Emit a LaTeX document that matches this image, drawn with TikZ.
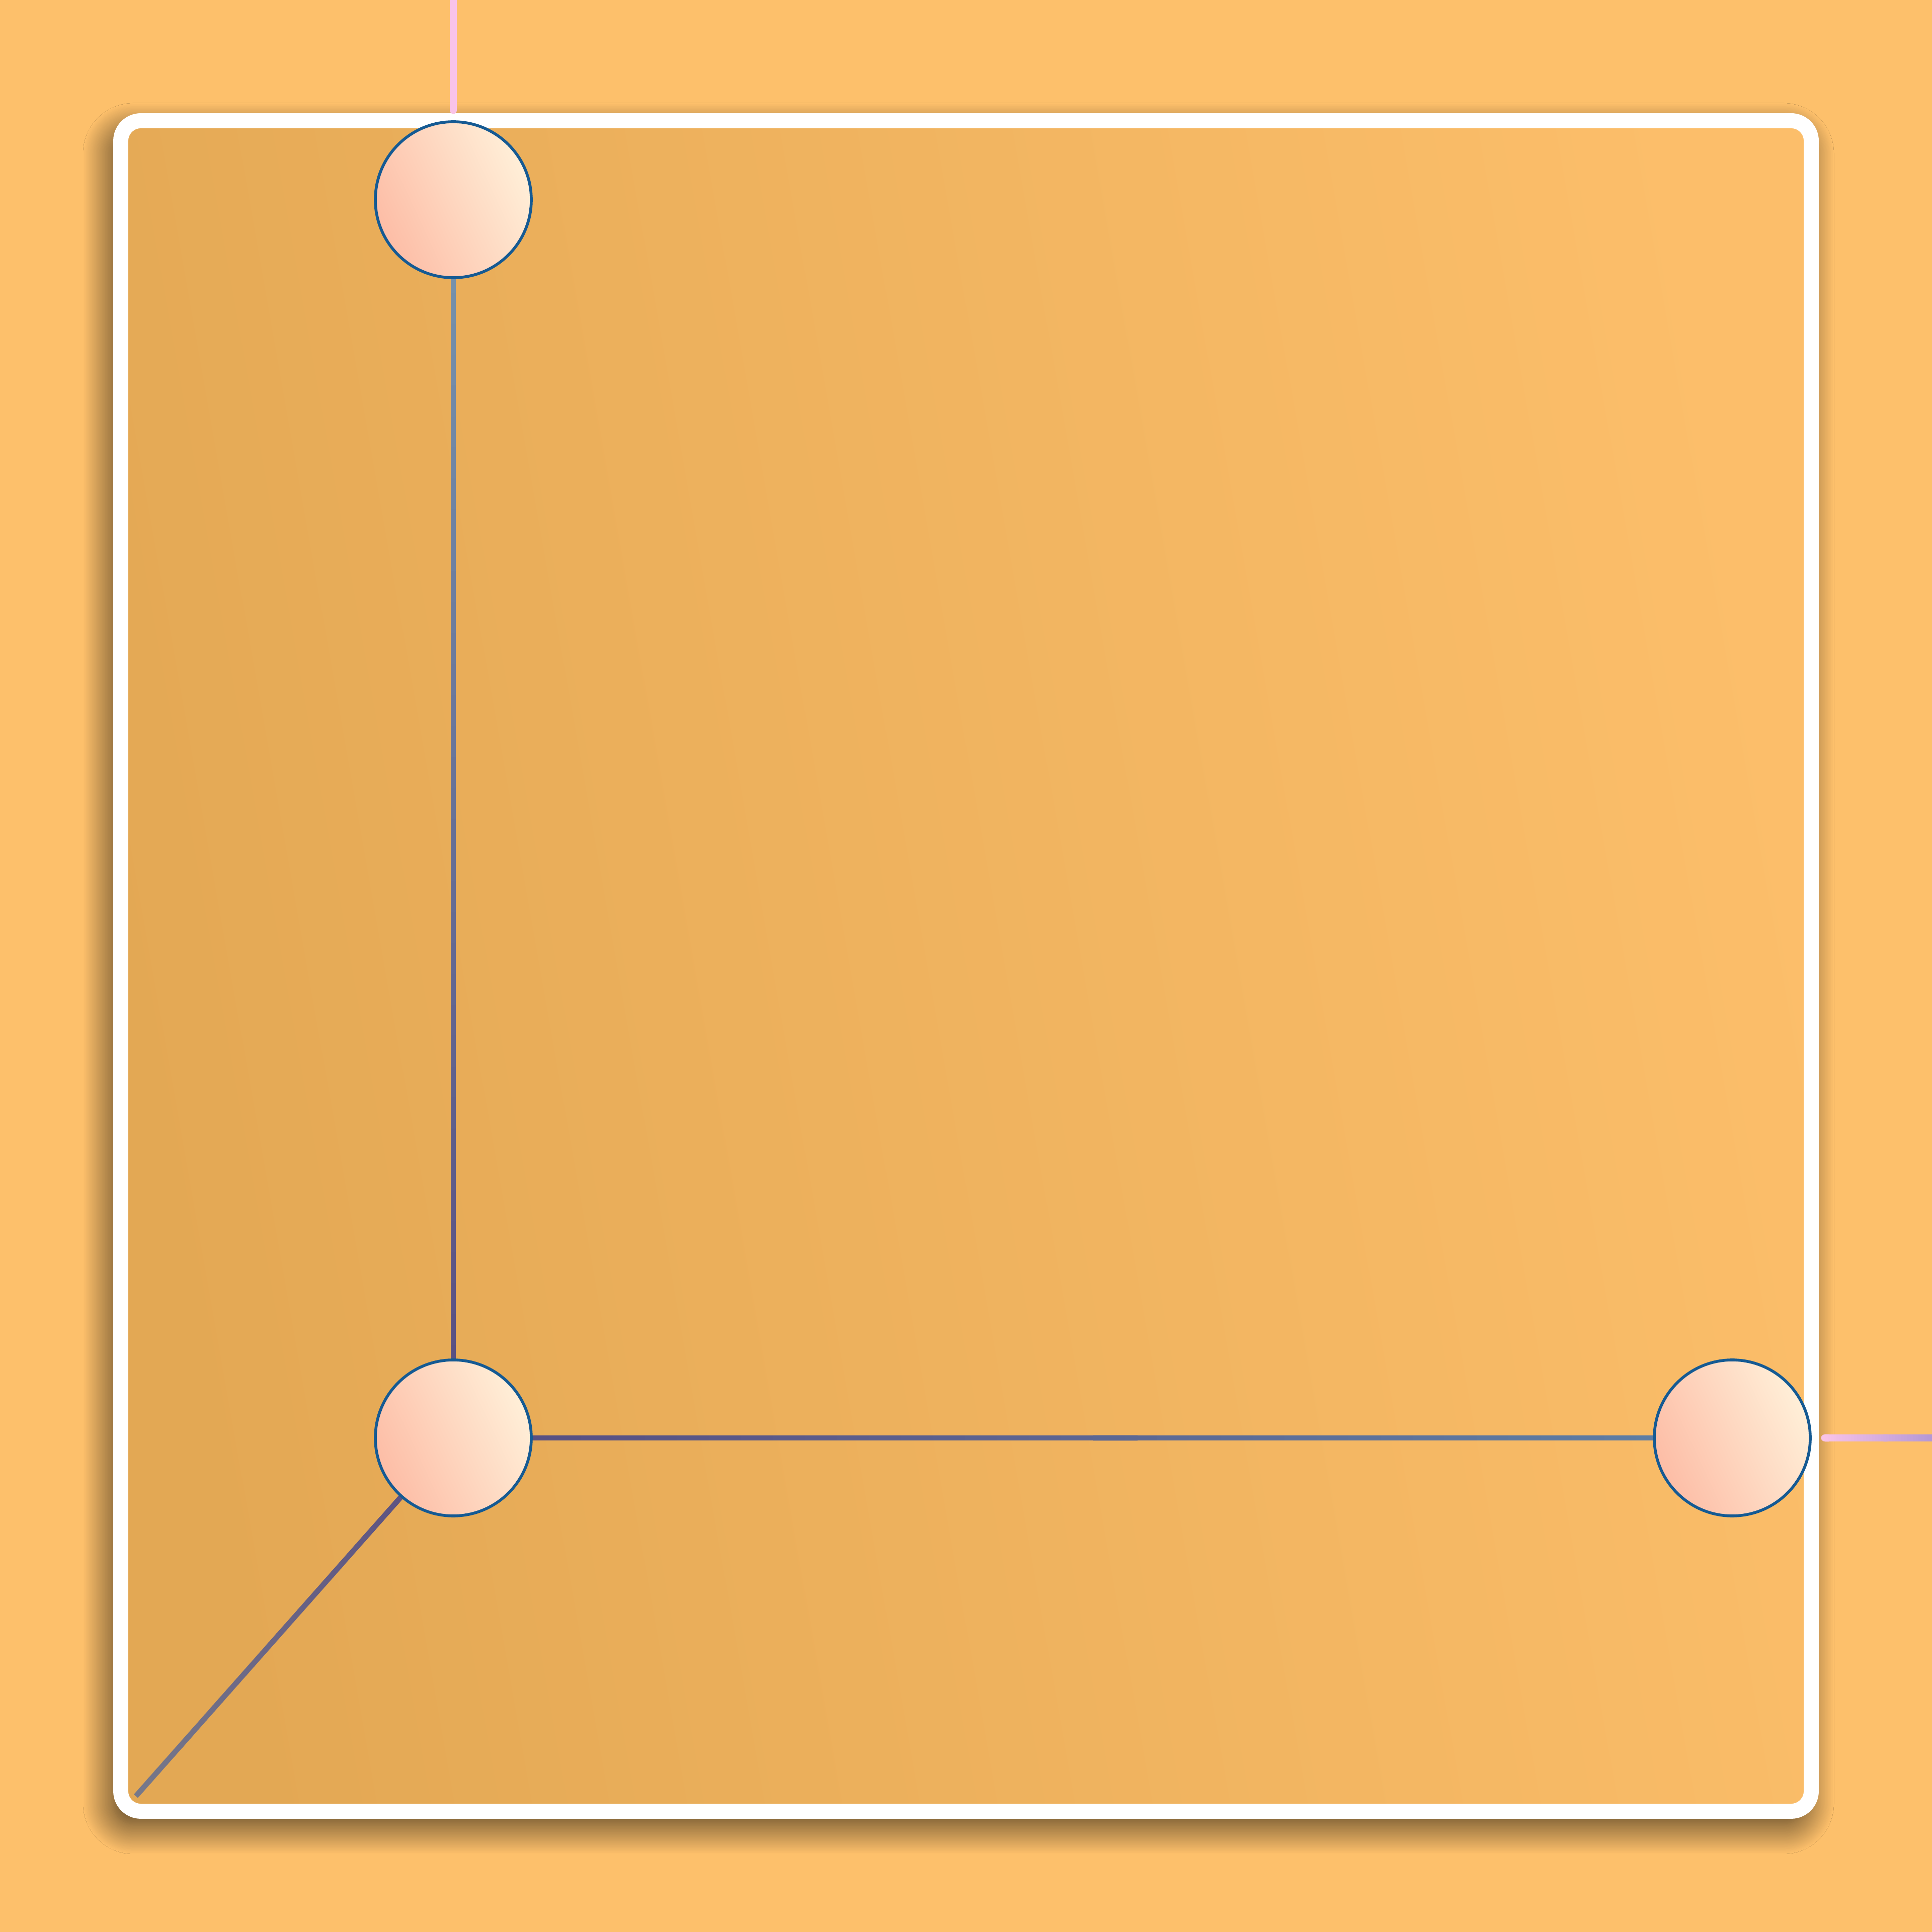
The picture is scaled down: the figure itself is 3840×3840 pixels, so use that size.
\documentclass[tikz,border=0pt]{standalone}
\usepackage{tikz}
\usetikzlibrary{calc,shadows.blur}
\definecolor{pagebg}{HTML}{FDC06B}
\definecolor{panell}{HTML}{E3A854}
\definecolor{panelr}{HTML}{FCBE6A}
\definecolor{ringx}{HTML}{155A93}
\definecolor{dotl}{HTML}{FDBDA6}
\definecolor{dotr}{HTML}{FFEFD8}
\definecolor{slatex}{HTML}{7896AE}
\definecolor{plumx}{HTML}{584C80}
\definecolor{bluex}{HTML}{5E80A6}
\definecolor{greyx}{HTML}{76788A}
\definecolor{pinkx}{HTML}{F9C3E8}
\definecolor{lilacx}{HTML}{AE94D4}
\pgfdeclarelayer{back}
\pgfdeclarelayer{wires}
\pgfsetlayers{back,wires,main}
\tikzset{
  panel/.style={draw=white,line width=8.5pt,rounded corners=4mm,left color=panell,right color=panelr,shading angle=100,
    blur shadow={shadow xshift=-1.5mm,shadow yshift=-2.5mm,shadow blur radius=6mm,shadow blur steps=40,shadow opacity=75}},
  dot/.style={circle,draw=ringx,line width=1.6pt,minimum size=31mm,inner sep=0pt,outer sep=0pt,left color=dotl,right color=dotr,shading angle=115},
  wire/.style={line width=3pt},
  feed/.style={line width=4.2pt,line cap=round}
}
% colour-blended line, cut into short pieces
\newcommand{\gradwire}[5][wire]{%
  \foreach \k in {1,...,40}{%
    \pgfmathsetmacro{\ta}{(\k-1)/40}%
    \pgfmathsetmacro{\tb}{min(1,(\k+0.4)/40)}%
    \pgfmathtruncatemacro{\mx}{100-100*(\k-0.5)/40}%
    \draw[#1,#4!\mx!#5] ($(#2)!\ta!(#3)$) -- ($(#2)!\tb!(#3)$);
  }}

\begin{document}
\begin{tikzpicture}[x=0.1mm,y=0.1mm]
\useasboundingbox (0,0) rectangle (3840,3840);
\begin{pgfonlayer}{back}
\fill[pagebg] (0,0) rectangle (3840,3840);
\draw[panel] (240,240) rectangle (3600,3600);
\end{pgfonlayer}
% nodes
\node[dot] (top) at (901,3443) {};
\node[dot] (mid) at (901,982) {};
\node[dot] (rgt) at (3443,982) {};
\coordinate (corner) at (270,270);
\coordinate (topedge) at (901,3860);
\coordinate (topend) at (901,3621);
\coordinate (rgtend) at (3627,982);
\coordinate (rgtedge) at (3860,982);
% links
\begin{pgfonlayer}{wires}
\gradwire{top}{mid}{slatex}{plumx}
\gradwire{mid}{rgt}{plumx}{bluex}
\gradwire{mid}{corner}{plumx}{greyx}
\end{pgfonlayer}
\draw[feed,pinkx] (topedge) -- (topend);
\draw[feed,pinkx] (rgtend) -- ++(20,0);
\gradwire[feed,line cap=butt]{rgtend}{rgtedge}{pinkx}{lilacx}
\end{tikzpicture}
\end{document}
